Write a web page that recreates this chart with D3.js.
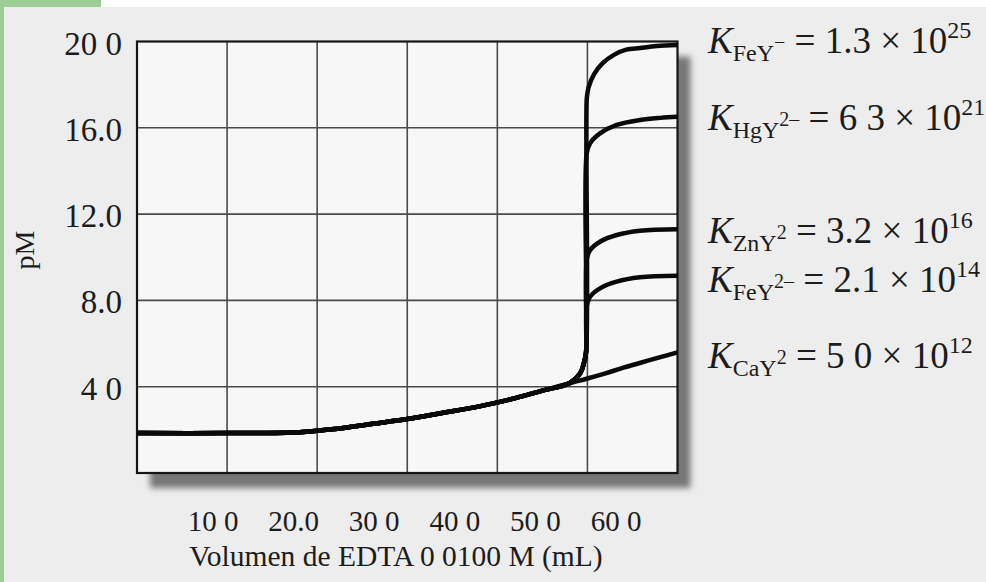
<!DOCTYPE html>
<html>
<head>
<meta charset="utf-8">
<script src="https://cdn.jsdelivr.net/npm/d3@7"></script>
<style>
  html, body { margin: 0; padding: 0; background: #fff; }
  svg { display: block; font-family: "Liberation Serif", "Times New Roman", serif; }
</style>
</head>
<body>
<div id="chart"></div>
<script>
// pre-equivalence branch shared by every metal
const commonV = [0, 10, 18, 22, 26, 30, 34, 38, 42, 45, 48];
const commonPM = [1.85, 1.85, 1.89, 2.04, 2.27, 2.5, 2.79, 3.09, 3.47, 3.82, 4.16];

// steep start of the jump for the strong complexes
const riseV = [49.2, 49.6, 49.85];
const risePM = [4.62, 5.08, 5.6];

const fe3V = [49.92, 50.04, 50.15, 50.74, 51.67, 52.9, 54.3, 55.84, 57.7, 60];
const fe3PM = [17.3, 17.7, 17.9, 18.49, 18.99, 19.37, 19.62, 19.7, 19.79, 19.84];
const hgV = [49.92, 50.29, 51.4, 53.25, 55.84, 58.1, 60];
const hgPM = [14.8, 15.28, 15.74, 16.13, 16.36, 16.46, 16.51];
const znV = [49.92, 50.29, 51.4, 53.25, 55.84, 60];
const znPM = [9.87, 10.33, 10.72, 11.03, 11.23, 11.3];
const fe2V = [49.92, 50.29, 51.4, 53.25, 55.84, 60];
const fe2PM = [7.71, 8.17, 8.56, 8.87, 9.07, 9.14];
const caV = [50, 52, 54, 56, 58, 60];
const caPM = [4.38, 4.62, 4.88, 5.12, 5.36, 5.59];

const yTicks = [20, 16, 12, 8, 4];
const yTickLabels = ["20 0", "16.0", "12.0", "8.0", "4 0"];
const xGrid = [10, 20, 30, 40, 50];
const xTicks = [10, 20, 30, 40, 50, 60];
const xTickLabels = ["10 0", "20.0", "30 0", "40 0", "50 0", "60 0"];

const kSpecies = ["FeY", "HgY", "ZnY", "FeY", "CaY"];
const kCharges = ["−", "2–", "2", "2–", "2"];
const kMantissas = ["1.3", "6 3", "3.2", "2.1", "5 0"];
const kExponents = ["25", "21", "16", "14", "12"];

const W = 986, H = 582;
const box = { left: 137, right: 677.5, top: 41.5, bottom: 473 };
const labelBaselines = [53, 130, 243, 292, 368];

const svg = d3.select("#chart").append("svg").attr("width", W).attr("height", H);

const x = d3.scaleLinear().domain([0, 60]).range([box.left, box.right]);
const y = d3.scaleLinear().domain([0, 20]).range([box.bottom, box.top]);
// the printed x labels sit a bit left of the grid lines in the scan
const xLabelPos = d3.scaleLinear().domain([10, 60]).range([213, 616]);

drawPage();
drawFrame();
drawCurves();
drawLabels();

function drawPage() {
  svg.append("rect").attr("width", W).attr("height", H).attr("fill", "#fff");
  svg.append("rect").attr("x", 0).attr("y", 7).attr("width", W).attr("height", H - 7).attr("fill", "#ededed");
  svg.append("rect").attr("x", 0).attr("y", 0).attr("width", 101).attr("height", 7).attr("fill", "#9dcc97");
  svg.append("rect").attr("x", 0).attr("y", 0).attr("width", 4).attr("height", H).attr("fill", "#9dcc97");

  const defs = svg.append("defs");
  defs.append("filter").attr("id", "blur")
    .attr("x", "-10%").attr("y", "-10%").attr("width", "120%").attr("height", "120%")
    .append("feGaussianBlur").attr("stdDeviation", 3);
}

function drawFrame() {
  const w = box.right - box.left, h = box.bottom - box.top;
  svg.append("rect")
    .attr("x", box.left + 13).attr("y", box.top + 15)
    .attr("width", w).attr("height", h)
    .attr("fill", "#767676").attr("filter", "url(#blur)");
  svg.append("rect")
    .attr("x", box.left).attr("y", box.top).attr("width", w).attr("height", h)
    .attr("fill", "#f7f7f7");

  const g = svg.append("g").attr("stroke", "#4a4a4a").attr("stroke-width", 1.6);
  g.selectAll("line.h").data(yTicks.slice(1)).join("line")
    .attr("x1", box.left).attr("x2", box.right)
    .attr("y1", (d) => y(d)).attr("y2", (d) => y(d));
  g.selectAll("line.v").data(xGrid).join("line")
    .attr("y1", box.top).attr("y2", box.bottom)
    .attr("x1", (d) => x(d)).attr("x2", (d) => x(d));

  svg.append("rect")
    .attr("x", box.left).attr("y", box.top).attr("width", w).attr("height", h)
    .attr("fill", "none").attr("stroke", "#151515").attr("stroke-width", 2.2);
}

function zip(vs, ps) {
  return vs.map((v, i) => [v, ps[i]]);
}

function drawCurves() {
  const base = zip(commonV, commonPM);
  const rise = zip(riseV, risePM);
  const series = [
    [...base, ...zip(caV, caPM)],
    [...base, ...rise, ...zip(fe2V, fe2PM)],
    [...base, ...rise, ...zip(znV, znPM)],
    [...base, ...rise, ...zip(hgV, hgPM)],
    [...base, ...rise, ...zip(fe3V, fe3PM)],
  ];
  const line = d3.line()
    .x((d) => x(d[0]))
    .y((d) => y(d[1]))
    .curve(d3.curveCatmullRom.alpha(0.5));
  svg.append("g").selectAll("path").data(series).join("path")
    .attr("d", line)
    .attr("fill", "none")
    .attr("stroke", "#0a0a0a")
    .attr("stroke-width", 4.5)
    .attr("stroke-linejoin", "round")
    .attr("stroke-linecap", "butt");
}

function drawLabels() {
  const ink = "#1c1c1c";

  svg.append("g").selectAll("text").data(yTicks).join("text")
    .attr("x", 122).attr("y", (d) => y(d) + 13)
    .attr("text-anchor", "end").attr("font-size", 33).attr("fill", ink)
    .text((d, i) => yTickLabels[i]);

  svg.append("text")
    .attr("transform", "translate(34,250) rotate(-90)")
    .attr("text-anchor", "middle").attr("font-size", 28).attr("fill", ink)
    .text("pM");

  svg.append("g").selectAll("text").data(xTicks).join("text")
    .attr("x", (d) => xLabelPos(d)).attr("y", 531)
    .attr("text-anchor", "middle").attr("font-size", 29).attr("fill", ink)
    .text((d, i) => xTickLabels[i]);

  svg.append("text")
    .attr("x", 396).attr("y", 566)
    .attr("text-anchor", "middle").attr("font-size", 29.5).attr("fill", ink)
    .text("Volumen de EDTA 0 0100 M (mL)");

  kSpecies.forEach((sp, i) => {
    const t = svg.append("text")
      .attr("x", 708).attr("y", labelBaselines[i])
      .attr("font-size", 37).attr("fill", ink);
    t.append("tspan").attr("font-style", "italic").text("K");
    t.append("tspan").attr("font-size", 24).attr("dy", 8).text(sp);
    t.append("tspan").attr("font-size", 20).attr("dy", -12).text(kCharges[i]);
    t.append("tspan").attr("dy", 4).text(` = ${kMantissas[i]} × 10`);
    t.append("tspan").attr("font-size", 24).attr("dy", -15).text(kExponents[i]);
  });
}
</script>
</body>
</html>
